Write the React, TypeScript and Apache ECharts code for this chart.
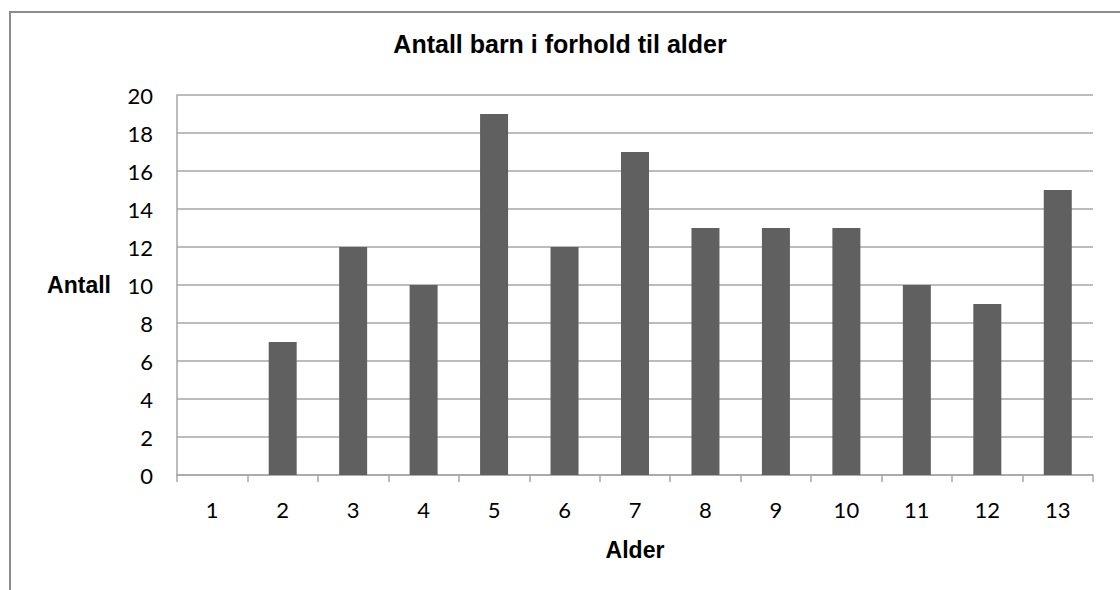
import React, { useEffect, useRef } from "react";
import * as echarts from "echarts";

const categories = ["1", "2", "3", "4", "5", "6", "7", "8", "9", "10", "11", "12", "13"];
const counts = [0, 7, 12, 10, 19, 12, 17, 13, 13, 13, 10, 9, 15];
const titleText = "Antall barn i forhold til alder";
const yName = "Antall";
const xName = "Alder";

export default function App() {
  const ref = useRef<HTMLDivElement>(null);
  useEffect(() => {
    if (!ref.current) return;
    const chart = echarts.init(ref.current, null, { renderer: "svg" });
    chart.setOption({
      animation: false,
      backgroundColor: "#ffffff",
      title: {
        text: titleText,
        left: "center",
        top: 26,
        textStyle: { fontFamily: "Liberation Sans", fontWeight: "bold", fontSize: 25, color: "#000" },
      },
      graphic: [
        {
          type: "rect",
          shape: { x: 10, y: 12, width: 1200, height: 700 },
          style: { fill: "none", stroke: "#8c8c8c", lineWidth: 2 },
          silent: true,
        },
      ],
      grid: { left: 177, right: 27, top: 95, bottom: 115 },
      xAxis: {
        type: "category",
        data: categories,
        name: xName,
        nameLocation: "middle",
        nameGap: 63,
        nameTextStyle: { fontFamily: "Liberation Sans", fontWeight: "bold", fontSize: 23, color: "#000" },
        axisLine: { lineStyle: { color: "#a6a6a6", width: 1.5 } },
        axisTick: { show: true, alignWithLabel: false, length: 7, lineStyle: { color: "#a6a6a6", width: 1.5 } },
        axisLabel: { fontFamily: "Lato", fontSize: 22, color: "#000", margin: 23 },
      },
      yAxis: {
        type: "value",
        min: 0,
        max: 20,
        interval: 2,
        name: yName,
        nameLocation: "middle",
        nameRotate: 0,
        nameGap: 66,
        nameTextStyle: { fontFamily: "Liberation Sans", fontWeight: "bold", fontSize: 23, color: "#000", align: "right" },
        axisLine: { show: true, lineStyle: { color: "#a6a6a6", width: 1.5 } },
        axisTick: { show: false },
        axisLabel: { fontFamily: "Lato", fontSize: 22, color: "#000", margin: 24 },
        splitLine: { lineStyle: { color: "#a6a6a6", width: 1.5 } },
      },
      series: [
        {
          type: "bar",
          data: counts,
          barWidth: 28,
          itemStyle: { color: "#606060" },
        },
      ],
    });
    return () => chart.dispose();
  }, []);
  return <div ref={ref} style={{ position: "fixed", left: 0, top: 0, width: 1120, height: 590 }} />;
}
